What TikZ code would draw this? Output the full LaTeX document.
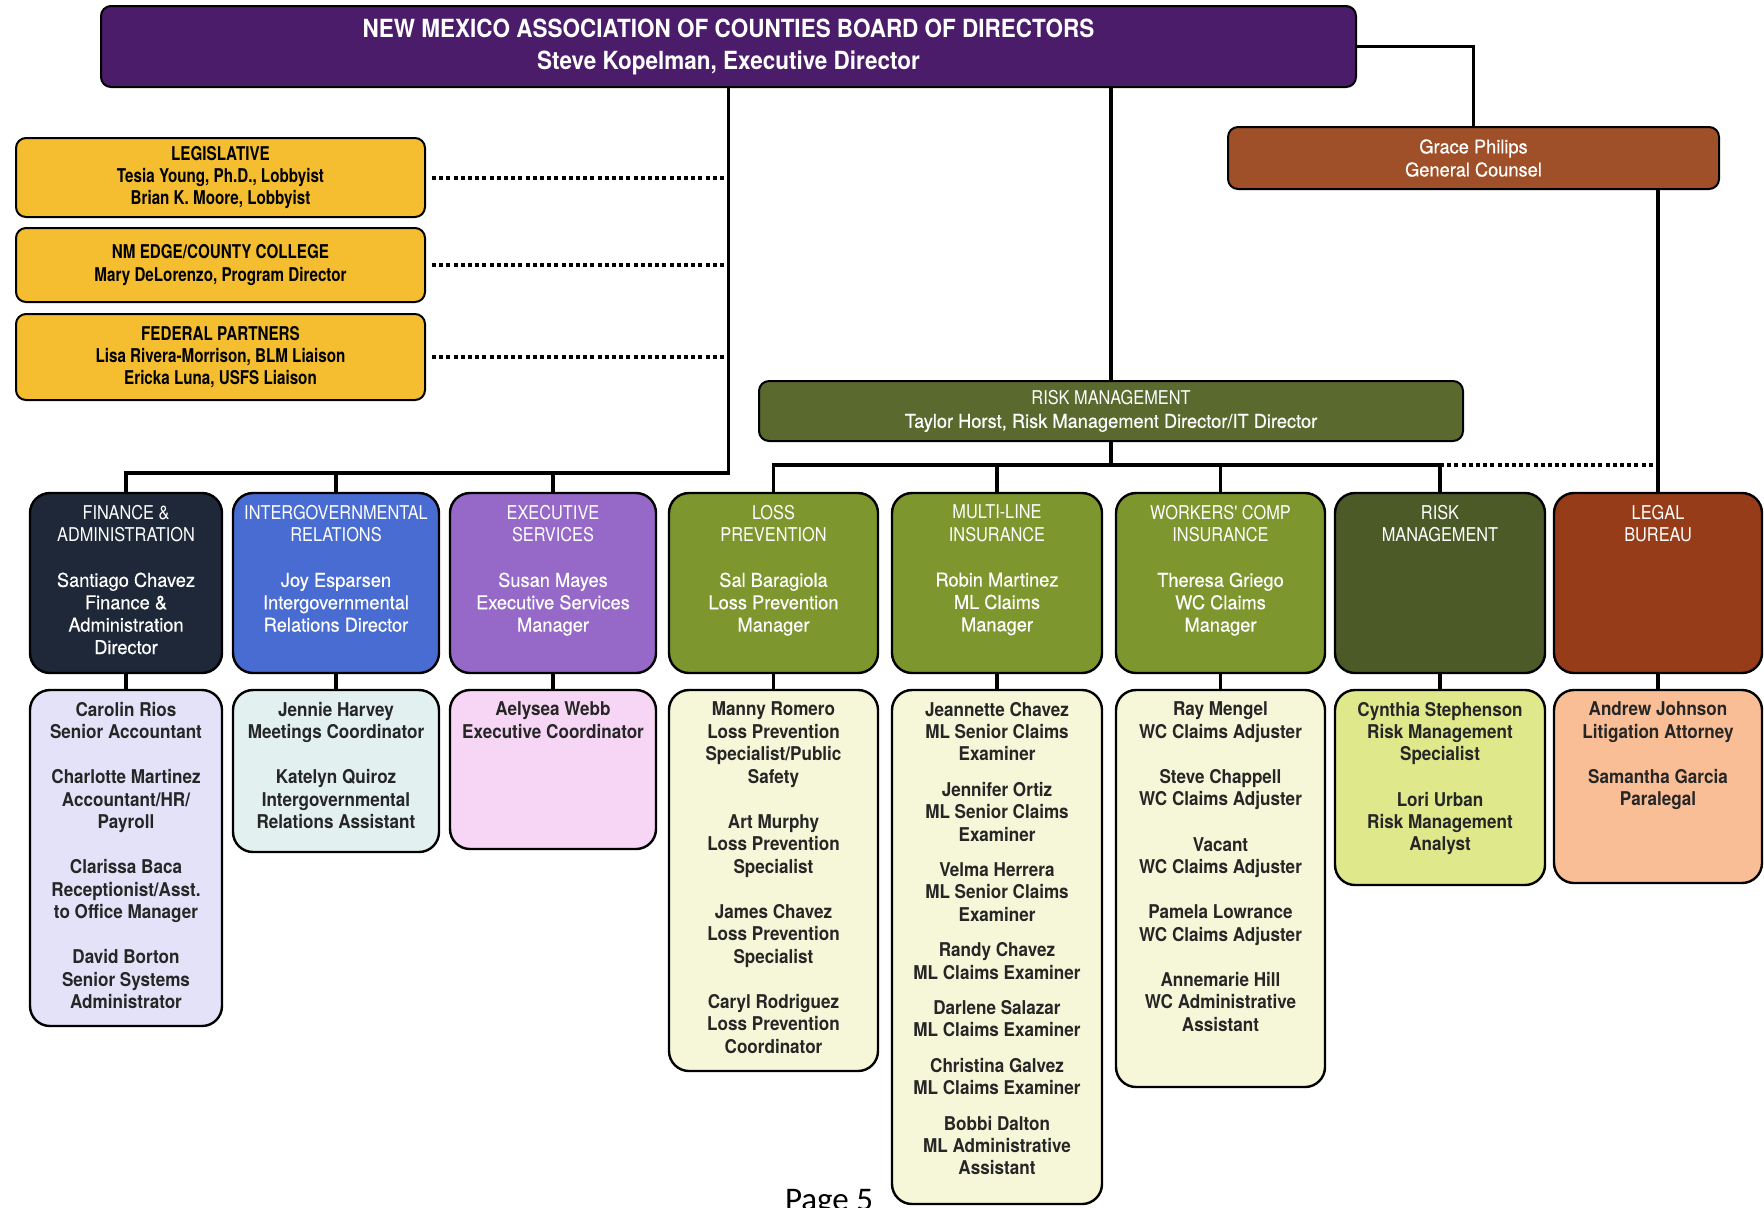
\documentclass[tikz,border=0pt]{standalone}
\usepackage{fontspec}
\setmainfont{TeX Gyre Heros}[FakeStretch=0.9]
\newfontfamily\narrowfont{TeX Gyre Heros}[FakeStretch=0.8]
\newfontfamily\capfont{TeX Gyre Heros}[FakeStretch=0.86]
\newfontfamily\midfont{TeX Gyre Heros}[FakeStretch=0.96,FakeBold=0.4]
\newfontfamily\pagefont{Carlito}

\definecolor{boardpurple}{RGB}{75,28,105}
\definecolor{counselbrown}{RGB}{160,80,40}
\definecolor{sideyellow}{RGB}{244,190,48}
\definecolor{riskolive}{RGB}{90,105,45}
\definecolor{finnavy}{RGB}{30,40,56}
\definecolor{igrblue}{RGB}{72,108,210}
\definecolor{exepurple}{RGB}{150,105,200}
\definecolor{poolgreen}{RGB}{125,150,45}
\definecolor{rmgdark}{RGB}{75,90,38}
\definecolor{legalrust}{RGB}{150,60,25}
\definecolor{finstafffill}{RGB}{228,226,248}
\definecolor{igrstafffill}{RGB}{226,240,240}
\definecolor{exestafffill}{RGB}{246,214,244}
\definecolor{poolstafffill}{RGB}{246,246,216}
\definecolor{rmgstafffill}{RGB}{224,232,140}
\definecolor{legalstafffill}{RGB}{250,190,150}

\newcommand{\boxtxt}[3]{\parbox[c][#2][t]{#1}{\centering\vspace*{6pt}#3\par}}
\newcommand{\unittxt}[4]{\boxtxt{#1}{#2}{{\capfont #3}\gap{\midfont #4}}}
\newcommand{\gap}{\\[11.4pt]}
\newcommand{\sgap}{\\[6.5pt]}

\begin{document}
\begin{tikzpicture}[x=0.5pt,y=-0.5pt,
    link/.style={line width=1.7pt,black},
    dotlink/.style={line width=2pt,black,dash pattern=on 2pt off 1.6pt},
    headbox/.style={draw=black,line width=1pt,rounded corners=5pt,text=white,align=center,inner sep=0pt},
    sidebox/.style={draw=black,line width=1pt,rounded corners=5pt,fill=sideyellow,align=center,inner sep=0pt,
      minimum width=204.5pt,font=\narrowfont\bfseries\fontsize{9.5}{11.2}\selectfont},
    unitbox/.style={draw=black,line width=1.2pt,rounded corners=10pt,text=white,inner sep=0pt,
      font=\fontsize{9.5}{11.2}\selectfont},
    staffbox/.style={draw=black,line width=1.2pt,rounded corners=10pt,text=black!85,inner sep=0pt,
      font=\bfseries\fontsize{9.5}{11.2}\selectfont}]
  \fill[white] (0,0) rectangle (1764,1207);
  \useasboundingbox (0,0) rectangle (1764,1207);
  % top of the chart
  \node[headbox,fill=boardpurple,minimum width=627.5pt,minimum height=40.5pt,
    font=\bfseries\fontsize{12.5}{16}\selectfont] (board) at (728.5,46.5)
    {NEW MEXICO ASSOCIATION OF COUNTIES BOARD OF DIRECTORS\\Steve Kopelman, Executive Director};
  \node[headbox,fill=counselbrown,minimum width=245.5pt,minimum height=31pt,
    font=\midfont\fontsize{9.5}{11.5}\selectfont] (grace) at (1473.5,158) {Grace Philips\\General Counsel};
  \node[sidebox,minimum height=39.5pt] (leg) at (220.5,177.5)
    {LEGISLATIVE\\Tesia Young, Ph.D., Lobbyist\\Brian K. Moore, Lobbyist};
  \node[sidebox,minimum height=37pt] (edge) at (220.5,265)
    {NM EDGE/COUNTY COLLEGE\\Mary DeLorenzo, Program Director};
  \node[sidebox,minimum height=43pt] (fed) at (220.5,357)
    {FEDERAL PARTNERS\\Lisa Rivera-Morrison, BLM Liaison\\Ericka Luna, USFS Liaison};
  \node[headbox,fill=riskolive,minimum width=352pt,minimum height=30pt,
    font=\fontsize{9.5}{11.8}\selectfont] (risk) at (1111,411)
    {{\capfont RISK MANAGEMENT}\\{\midfont Taylor Horst, Risk Management Director/IT Director}};
  % units
  \node[unitbox,fill=finnavy] (fin) at (126,583) {\unittxt{96pt}{90pt}{FINANCE \&\\ADMINISTRATION}
    {Santiago Chavez\\Finance \&\\Administration\\Director}};
  \node[unitbox,fill=igrblue] (igr) at (336,583) {\unittxt{103pt}{90pt}{INTERGOVERNMENTAL\\RELATIONS}
    {Joy Esparsen\\Intergovernmental\\Relations Director}};
  \node[unitbox,fill=exepurple] (exe) at (553,583) {\unittxt{103pt}{90pt}{EXECUTIVE\\SERVICES}
    {Susan Mayes\\Executive Services\\Manager}};
  \node[unitbox,fill=poolgreen] (loss) at (773.5,583) {\unittxt{104.5pt}{90pt}{LOSS\\PREVENTION}
    {Sal Baragiola\\Loss Prevention\\Manager}};
  \node[unitbox,fill=poolgreen] (ml) at (997,583) {\unittxt{105pt}{90pt}{MULTI-LINE\\INSURANCE}
    {Robin Martinez\\ML Claims\\Manager}};
  \node[unitbox,fill=poolgreen] (wc) at (1220.5,583) {\unittxt{104.5pt}{90pt}{WORKERS' COMP\\INSURANCE}
    {Theresa Griego\\WC Claims\\Manager}};
  \node[unitbox,fill=rmgdark] (rmg) at (1440,583) {\boxtxt{105pt}{90pt}{\capfont RISK\\MANAGEMENT}};
  \node[unitbox,fill=legalrust] (legal) at (1658,583) {\boxtxt{104pt}{90pt}{\capfont LEGAL\\BUREAU}};
  % staff
  \node[staffbox,fill=finstafffill] (finstaff) at (126,858) {\boxtxt{96pt}{168pt}{Carolin Rios\\Senior Accountant\gap
    Charlotte Martinez\\Accountant/HR/\\Payroll\gap Clarissa Baca\\Receptionist/Asst.\\to Office Manager\gap
    David Borton\\Senior Systems\\Administrator}};
  \node[staffbox,fill=igrstafffill] (igrstaff) at (336,771) {\boxtxt{103pt}{81pt}{Jennie Harvey\\Meetings Coordinator\gap
    Katelyn Quiroz\\Intergovernmental\\Relations Assistant}};
  \node[staffbox,fill=exestafffill] (exestaff) at (553,769.5) {\boxtxt{103pt}{79.5pt}{Aelysea Webb\\Executive Coordinator}};
  \node[staffbox,fill=poolstafffill] (lossstaff) at (773.5,880.5) {\boxtxt{104.5pt}{190.5pt}{Manny Romero\\Loss Prevention\\
    Specialist/Public\\Safety\gap Art Murphy\\Loss Prevention\\Specialist\gap James Chavez\\Loss Prevention\\
    Specialist\gap Caryl Rodriguez\\Loss Prevention\\Coordinator}};
  \node[staffbox,fill=poolstafffill] (mlstaff) at (997,947) {\boxtxt{105pt}{257pt}{Jeannette Chavez\\ML Senior Claims\\
    Examiner\sgap Jennifer Ortiz\\ML Senior Claims\\Examiner\sgap Velma Herrera\\ML Senior Claims\\Examiner\sgap
    Randy Chavez\\ML Claims Examiner\sgap Darlene Salazar\\ML Claims Examiner\sgap Christina Galvez\\
    ML Claims Examiner\sgap Bobbi Dalton\\ML Administrative\\Assistant}};
  \node[staffbox,fill=poolstafffill] (wcstaff) at (1220.5,888.5) {\boxtxt{104.5pt}{198.5pt}{Ray Mengel\\WC Claims Adjuster\gap
    Steve Chappell\\WC Claims Adjuster\gap Vacant\\WC Claims Adjuster\gap Pamela Lowrance\\WC Claims Adjuster\gap
    Annemarie Hill\\WC Administrative\\Assistant}};
  \node[staffbox,fill=rmgstafffill] (rmgstaff) at (1440,787.5) {\boxtxt{105pt}{97.5pt}{Cynthia Stephenson\\
    Risk Management\\Specialist\gap Lori Urban\\Risk Management\\Analyst}};
  \node[staffbox,fill=legalstafffill] (legalstaff) at (1658,786.5) {\boxtxt{104pt}{96.5pt}{Andrew Johnson\\
    Litigation Attorney\gap Samantha Garcia\\Paralegal}};
  \node[font=\pagefont\fontsize{16.5}{18}\selectfont,anchor=base,inner sep=0pt] (pagenum) at (829,1210) {Page 5};
  % connectors
  \coordinate (lbus) at (728.5,473);
  \coordinate (rbus) at (1111,465);
  \draw[link] (board.east) -| (grace.north);
  \draw[link] (board.south) -- (lbus) -| (fin.north);
  \draw[link] (lbus -| igr.north) -- (igr.north);
  \draw[link] (lbus -| exe.north) -- (exe.north);
  \draw[link] (board.south -| risk.north) -- (risk.north);
  \draw[link] (risk.south) -- (rbus) -| (loss.north);
  \draw[link] (rbus) -| (rmg.north);
  \draw[link] (rbus -| ml.north) -- (ml.north);
  \draw[link] (rbus -| wc.north) -- (wc.north);
  \draw[link] (grace.south -| legal.north) -- (legal.north);
  \draw[dotlink] (rbus -| rmg.north) -- (rbus -| legal.north);
  \draw[dotlink,shorten <=3pt] (leg.east) -- (leg.east -| lbus);
  \draw[dotlink,shorten <=3pt] (edge.east) -- (edge.east -| lbus);
  \draw[dotlink,shorten <=3pt] (fed.east) -- (fed.east -| lbus);
  \foreach \unit in {fin,igr,exe,loss,ml,wc,rmg,legal}
    \draw[link] (\unit.south) -- (\unit staff.north);
\end{tikzpicture}
\end{document}
